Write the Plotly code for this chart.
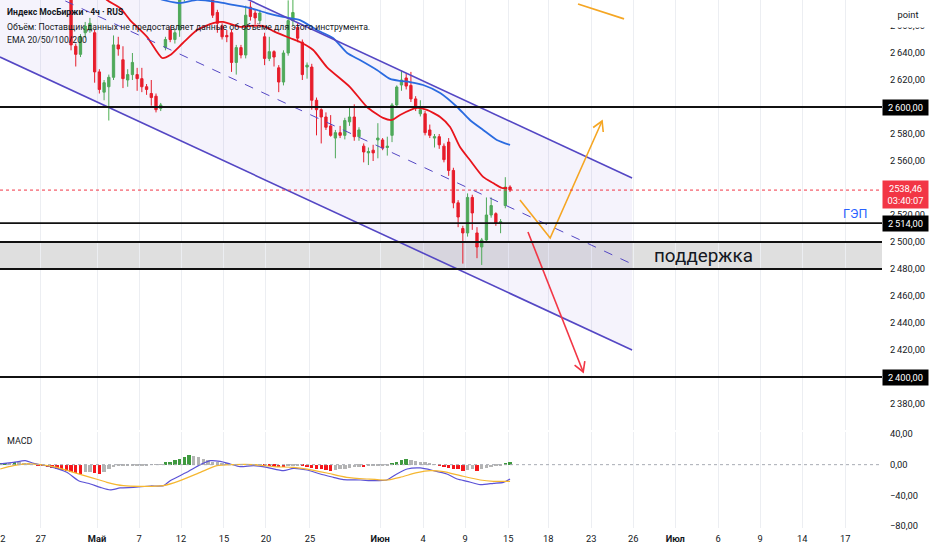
import math
import plotly.graph_objects as go

# ---- 4h candles (bar index counted from the left edge of the chart) ----
bar_idx = list(range(15, 109))
opens = [2700, 2645, 2639, 2655, 2657, 2655, 2626, 2611, 2615, 2622,
         2646, 2635, 2620, 2624, 2624, 2621, 2615, 2610, 2608, 2599,
         2644, 2657, 2650, 2657, 2682, 2690, 2686, 2695, 2690, 2694,
         2700, 2670, 2660, 2653, 2655, 2633, 2644, 2638.5, 2674, 2669.6,
         2664, 2652, 2636, 2641, 2629, 2618.5, 2640, 2664, 2659, 2648,
         2629.6, 2629.6, 2605, 2598, 2592.6, 2586, 2577, 2581, 2579, 2589,
         2592.6, 2578, 2571, 2566, 2568, 2575.6, 2575.6, 2570, 2579, 2601.5,
         2616.3, 2621.5, 2616, 2606, 2595, 2595, 2583, 2577, 2578, 2571,
         2574, 2553, 2529, 2510, 2506.7, 2533, 2506.7, 2496.3, 2501.5, 2520,
         2521, 2514, 2527, 2540.7]
highs = [2708, 2647, 2654, 2663, 2666, 2657, 2628, 2620, 2624, 2653,
         2652, 2645, 2628, 2640, 2629, 2629, 2617, 2620, 2610, 2603,
         2652, 2660, 2658, 2688, 2695, 2698, 2700, 2702, 2698, 2705,
         2705, 2672, 2662, 2657, 2657, 2646, 2646, 2675, 2678, 2672,
         2672, 2655, 2652, 2642, 2631, 2642, 2679, 2682, 2662, 2650,
         2633, 2632, 2607, 2599, 2596, 2594, 2583, 2586, 2592, 2600,
         2602, 2585, 2573, 2570, 2572, 2588, 2577, 2578, 2603, 2616,
         2627, 2625, 2626, 2608, 2605, 2597, 2587, 2580, 2580, 2573,
         2577, 2555, 2531, 2512, 2536, 2535, 2511, 2503, 2533, 2533,
         2522, 2517, 2548, 2542]
lows = [2642, 2630, 2637, 2651, 2655, 2618, 2610, 2605, 2590, 2620,
        2638, 2614, 2615, 2620, 2612, 2611, 2609, 2601, 2596, 2597,
        2642, 2648, 2647, 2652, 2678, 2683, 2683, 2686, 2684, 2688,
        2666, 2655, 2650, 2648, 2626, 2624, 2636, 2636, 2664, 2661,
        2662, 2631, 2634, 2630, 2611, 2616, 2638, 2660, 2648, 2620,
        2621, 2598, 2579, 2573, 2583, 2578, 2562, 2577, 2576, 2586,
        2575, 2575, 2559, 2557, 2560, 2562, 2568, 2564, 2574, 2600,
        2612, 2613, 2603.7, 2597, 2593, 2579, 2577, 2570, 2569, 2559,
        2549, 2525, 2511, 2484, 2504, 2509, 2488, 2483, 2500, 2518,
        2512, 2506.5, 2525, 2537]
closes = [2646, 2639, 2652, 2660, 2662, 2626, 2613, 2618, 2622, 2646,
          2643, 2621, 2624, 2633, 2621, 2615, 2613, 2607, 2598, 2601.5,
          2650, 2650, 2655, 2682, 2690, 2686, 2695, 2690, 2694, 2700,
          2668, 2662, 2652, 2652, 2633, 2644, 2638.5, 2668, 2667, 2666,
          2669.6, 2636, 2641, 2637, 2618.5, 2640, 2664, 2670, 2651, 2624,
          2631, 2605, 2598, 2592.6, 2585, 2579, 2581, 2579, 2590, 2592.6,
          2578, 2583, 2566.7, 2567, 2566, 2577, 2569.6, 2571, 2601.5, 2614.8,
          2620, 2615.5, 2606, 2599.3, 2598, 2581, 2579, 2578, 2572, 2561,
          2553, 2529, 2518.5, 2506.7, 2533, 2521.5, 2496.3, 2501.5, 2520, 2527,
          2514, 2515, 2540.7, 2538.46]

# EMA 20 (red) and EMA 50 (blue)
ema20_x = [20.1, 22.6, 25.4, 27.5, 31.1, 34.3, 36.0, 38.7, 41.7, 45.1, 47.2,
           50.8, 52.9, 55.7, 58.2, 61.4, 63.5, 66.3, 69.2, 74.1, 77.7, 81.1,
           83.0, 84.7, 88.3, 90.4, 93.2, 95.3, 97.4, 99.5, 102.3, 104.4, 106.3, 107.4]
ema20_y = [2688, 2679.3, 2673.3, 2664.4, 2651.9, 2636.3, 2638.5, 2647.4, 2657.0,
           2662.2, 2663.0, 2659.3, 2660.0, 2660.0, 2655.6, 2651.1, 2648.2, 2642.2,
           2629.6, 2614.8, 2600.0, 2591.9, 2590.4, 2594.1, 2599.3, 2597.8, 2592.6,
           2585.2, 2570.4, 2560.7, 2548.2, 2543.7, 2540.0, 2540.0]
ema50_x = [31.7, 34.5, 38.1, 41.7, 45.9, 49.3, 52.9, 56.5, 59.9, 63.5, 67.1,
           70.5, 73.5, 76.2, 79.8, 82.6, 84.7, 86.8, 89.6, 93.2, 96.8, 99.5,
           102.3, 105.2, 108.0]
ema50_y = [2683, 2679.3, 2677.0, 2679.3, 2677.8, 2675.6, 2673.3, 2669.6, 2666.7,
           2664.4, 2657.0, 2651.1, 2640.0, 2634.8, 2627.4, 2620.8, 2619.3, 2618.5,
           2616.3, 2610.4, 2600.0, 2590.4, 2583.0, 2575.6, 2571.9]

# MACD pane
hist = [1, 2, 2, 3, 3, 2, 1, 0, -1, -2,
        -3, -4, -5, -7, -8, -9, -11, -12, -10, -9,
        -11, -12, -9, -6, -3, -2, -1, -1, -1, -1,
        -0.5, -0.5, -0.3, -0.3, -0.2, 3, 4, 6, 8, 10,
        12, 11, 10, 8, 6, 4, 3, 2, 1, 0.4,
        0.2, 0.1, -0.3, -0.2, -0.2, -0.2, -1.5, -2, -2.5, -3,
        -3.5, -2, -1, -1, -2, -3, -4, -5, -6, -7,
        -8, -7, -6, -5, -4, -3, -2.5, -3, -2, -1.5,
        -1, -1, -0.5, 2, 4, 6, 7, 6, 5, 4,
        3, 1.5, 0.5, -1.5, -3, -4, -5, -6, -8, -7,
        -6, -8, -6, -4, -3, -2, -1, 1.5, 3]
macd_x = [0, 2.8, 5.3, 7.1, 10.6, 14.1, 16.6, 19.1, 21.2, 23.3, 25.4, 28.2, 31.8,
          34.6, 36.0, 39.5, 42.4, 44.5, 46.6, 48.7, 50.8, 53.7, 56.5, 60.0, 62.1,
          65.0, 67.8, 70.6, 72.7, 76.3, 79.1, 81.9, 84.0, 86.2, 89.0, 91.8, 94.6,
          96.8, 98.9, 101.7, 104.5, 106.6, 108.0]
macd_v = [0.9, 3, 5.2, 1.7, -2.6, -10, -20.9, -25.2, -29.6, -33, -30.4, -29.6, -27.8,
          -27.4, -20.9, -10, 0, 5.2, 4.3, 0.9, -2.6, -1.3, -3.5, -7.8, -4.8,
          -7, -12.2, -16.5, -19.6, -20, -20.9, -20, -12.2, -5.7, -4.3, -7.8, -12.2,
          -18.7, -21.7, -26.1, -24.3, -23, -18.7]
signal_x = [0, 2.8, 5.6, 8.5, 12.0, 15.5, 19.1, 22.6, 26.1, 29.7, 34.6, 38.1, 42.4,
            45.9, 49.4, 53.7, 57.9, 62.1, 65.0, 69.2, 73.4, 77.7, 81.9, 84.7, 88.3,
            91.1, 93.9, 97.5, 101.7, 104.5, 108.0]
signal_v = [-5.7, -1.3, 0.9, 0, -3.5, -10, -16.5, -23, -27.4, -28.3, -27.4, -20.9, -10,
            -1.3, 0, 0, -2.6, -3.5, -5.7, -10.9, -16.5, -18.7, -20, -16.5, -10.4,
            -7.8, -9.1, -14.3, -20, -21.7, -21.7]

# drawings
chan_x = [-0.05, 133.85]
chan_upper = [2765.0, 2547.4]
chan_lower = [2637.0, 2420.0]
levels = [2600, 2514, 2500, 2480, 2400]
level_labels = [2600, 2514, 2400]
support_zone = [2480, 2500]
last_price = 2538.46
timer_text = "03:40:07"
orange_arrow_x = [110.1, 116.5, 127.5]
orange_arrow_y = [2531.1, 2503.0, 2589.6]
red_arrow_x = [111.8, 123.5]
red_arrow_y = [2507.4, 2403.7]
orange_line_x = [122.4, 132.15]
orange_line_y = [2676.3, 2665.2]

# price scale ticks; 2600/2540/2400 sit under the coloured price labels
price_ticks = [2380, 2420, 2440, 2460, 2480, 2500, 2520, 2560, 2580, 2620, 2640, 2660]
macd_ticks = [40, 0, -40, -80]
date_pos = [0.0, 8.6, 20.5, 29.4, 38.3, 47.4, 56.3, 65.6, 80.5, 89.6,
            98.5, 107.6, 116.1, 125.2, 134.1, 143.0, 152.1, 161.0, 169.9, 179.0]
date_text = ["22", "27", "<b>Май</b>", "7", "12", "15", "20", "25", "<b>Июн</b>", "4",
             "9", "15", "18", "23", "26", "<b>Июл</b>", "6", "9", "14", "17"]

X_RANGE = [-0.05, 186.8]
Y_RANGE = [2360.74, 2679.26]
Y2_RANGE = [-82.6, 42.6]
PLOT_W, MAIN_H = 882, 430

GREEN = "#4caf50"
RED = "#f0181e"
TXT = "#131722"
FONT = "Roboto"
AXF = 9.3


def fmt(v):
    s = f"{v:,.2f}"
    return s.replace(",", "\u2009").replace(".", ",")


def to_px(x, y):
    px = (x - X_RANGE[0]) / (X_RANGE[1] - X_RANGE[0]) * PLOT_W
    py = (Y_RANGE[1] - y) / (Y_RANGE[1] - Y_RANGE[0]) * MAIN_H
    return px, py


def from_px(px, py):
    x = X_RANGE[0] + px / PLOT_W * (X_RANGE[1] - X_RANGE[0])
    y = Y_RANGE[1] - py / MAIN_H * (Y_RANGE[1] - Y_RANGE[0])
    return x, y


def arrow_head(xs, ys, size=11, ang=30):
    ex, ey = to_px(xs[-1], ys[-1])
    sx, sy = to_px(xs[-2], ys[-2])
    d = math.hypot(ex - sx, ey - sy)
    ux, uy = (ex - sx) / d, (ey - sy) / d
    pts = []
    for a in (ang, -ang):
        r = math.radians(a)
        rx = ux * math.cos(r) - uy * math.sin(r)
        ry = ux * math.sin(r) + uy * math.cos(r)
        pts.append(from_px(ex - size * rx, ey - size * ry))
    return ([pts[0][0], xs[-1], pts[1][0]], [pts[0][1], ys[-1], pts[1][1]])


fig = go.Figure()

# channel fill
fig.add_trace(go.Scatter(
    x=[chan_x[0], chan_x[1], chan_x[1], chan_x[0], chan_x[0]],
    y=[chan_lower[0], chan_lower[1], chan_upper[1], chan_upper[0], chan_lower[0]],
    fill="toself", fillcolor="rgba(120,100,215,0.075)", line=dict(width=0),
    mode="lines", hoverinfo="skip"))

fig.add_trace(go.Candlestick(
    x=bar_idx, open=opens, high=highs, low=lows, close=closes,
    increasing=dict(line=dict(color=GREEN, width=1), fillcolor=GREEN),
    decreasing=dict(line=dict(color=RED, width=1), fillcolor=RED),
    whiskerwidth=0, hoverinfo="skip"))

fig.add_trace(go.Scatter(x=ema20_x, y=ema20_y, mode="lines",
                         line=dict(color="#e8141c", width=1.8, shape="spline", smoothing=0.6),
                         hoverinfo="skip"))
fig.add_trace(go.Scatter(x=ema50_x, y=ema50_y, mode="lines",
                         line=dict(color="#2a6be0", width=1.8, shape="spline", smoothing=0.6),
                         hoverinfo="skip"))

# channel lines
mid = [(u + l) / 2 for u, l in zip(chan_upper, chan_lower)]
for yy, dash, w in ((chan_upper, "solid", 1.6), (chan_lower, "solid", 1.6), (mid, "dash", 1)):
    fig.add_trace(go.Scatter(x=chan_x, y=yy, mode="lines",
                             line=dict(color="#5447c4", width=w, dash=dash), hoverinfo="skip"))

# drawn arrows
fig.add_trace(go.Scatter(x=orange_arrow_x, y=orange_arrow_y, mode="lines",
                         line=dict(color="#f5a623", width=1.6), hoverinfo="skip"))
hx, hy = arrow_head(orange_arrow_x, orange_arrow_y)
fig.add_trace(go.Scatter(x=hx, y=hy, mode="lines", line=dict(color="#f5a623", width=1.6),
                         hoverinfo="skip"))
fig.add_trace(go.Scatter(x=red_arrow_x, y=red_arrow_y, mode="lines",
                         line=dict(color="#f23645", width=1.6), hoverinfo="skip"))
hx, hy = arrow_head(red_arrow_x, red_arrow_y)
fig.add_trace(go.Scatter(x=hx, y=hy, mode="lines", line=dict(color="#f23645", width=1.6),
                         hoverinfo="skip"))
fig.add_trace(go.Scatter(x=orange_line_x, y=orange_line_y, mode="lines",
                         line=dict(color="#f5a623", width=1.8), hoverinfo="skip"))

# MACD pane
hist_colors = []
for k, v in enumerate(hist):
    prev = hist[k - 1] if k else 0
    if v >= 0:
        hist_colors.append("#3f9a3f" if v > prev else "#b4b4b4")
    else:
        hist_colors.append("#f5161b" if v < prev else "#b4b4b4")
fig.add_trace(go.Bar(x=list(range(len(hist))), y=hist, marker=dict(color=hist_colors, line=dict(width=0)),
                     width=0.72, xaxis="x", yaxis="y2", hoverinfo="skip"))
fig.add_trace(go.Scatter(x=macd_x, y=macd_v, mode="lines", xaxis="x", yaxis="y2",
                         line=dict(color="#5b52d6", width=1.2, shape="spline", smoothing=0.6),
                         hoverinfo="skip"))
fig.add_trace(go.Scatter(x=signal_x, y=signal_v, mode="lines", xaxis="x", yaxis="y2",
                         line=dict(color="#f5b731", width=1.2, shape="spline", smoothing=0.6),
                         hoverinfo="skip"))

shapes = [
    dict(type="rect", xref="paper", x0=0, x1=1, yref="y", y0=support_zone[0], y1=support_zone[1],
         fillcolor="rgba(150,150,150,0.3)", line=dict(width=0), layer="below"),
    dict(type="line", xref="paper", x0=0, x1=1, yref="y", y0=last_price, y1=last_price,
         line=dict(color="#f23645", width=1, dash="dot")),
    dict(type="line", xref="paper", x0=0, x1=1, yref="y2", y0=0, y1=0,
         line=dict(color="#a8abb3", width=1, dash="dot")),
]
for lv in levels:
    shapes.append(dict(type="line", xref="paper", x0=0, x1=1, yref="y", y0=lv, y1=lv,
                       line=dict(color="#111111", width=1.8)))

ann = []
legend_rows = [("<b>Индекс МосБиржи · 4ч · RUS</b>", 12, 8.6),
               ("Объём: Поставщик данных не предоставляет данные об объёме для этого инструмента.", 27, 8.7),
               ("EMA 20/50/100/200", 40, 8.7)]
for t, yy, fs in legend_rows:
    ann.append(dict(text=t, xref="paper", yref="paper", x=0, y=1, xshift=5, yshift=-yy,
                    xanchor="left", yanchor="middle", showarrow=False,
                    font=dict(family=FONT, size=fs, color=TXT)))
ann.append(dict(text="MACD", xref="paper", yref="y2 domain", x=0, y=1, xshift=5, yshift=-9,
                xanchor="left", yanchor="middle", showarrow=False,
                font=dict(family=FONT, size=9, color=TXT)))
for lv in level_labels:
    ann.append(dict(text=fmt(lv), xref="paper", yref="y", x=1, y=lv, xanchor="left",
                    yanchor="middle", showarrow=False, bgcolor="#000000", borderpad=2,
                    width=41, font=dict(family=FONT, size=AXF, color="#ffffff")))
ann.append(dict(text=f"{fmt(last_price).replace(chr(0x2009), '')}<br>{timer_text}", xref="paper", yref="y",
                x=1, y=last_price, yshift=-4, xanchor="left", yanchor="middle", showarrow=False,
                bgcolor="#f23645", borderpad=2, width=41,
                font=dict(family=FONT, size=AXF, color="#ffffff")))
ann.append(dict(text="point", xref="paper", yref="paper", x=1, y=1, xanchor="left", yanchor="top",
                showarrow=False, bgcolor="#ffffff", width=48, height=24, valign="middle",
                font=dict(family=FONT, size=AXF, color=TXT)))
ann.append(dict(text="ГЭП", xref="x", yref="y", x=181, y=2521, showarrow=False,
                font=dict(family=FONT, size=12.5, color="#2962ff")))
ann.append(dict(text="поддержка", xref="x", yref="y", x=148.9, y=2489.6, showarrow=False,
                font=dict(family=FONT, size=18.8, color=TXT)))

fig.update_layout(
    width=932, height=550,
    margin=dict(l=0, r=50, t=0, b=22),
    paper_bgcolor="#ffffff", plot_bgcolor="#ffffff",
    showlegend=False, bargap=0,
    shapes=shapes, annotations=ann,
    xaxis=dict(range=X_RANGE, anchor="y2", tickvals=date_pos, ticktext=date_text,
               showgrid=True, gridcolor="#eceef2", gridwidth=1, zeroline=False,
               showline=False, ticks="", ticklabelstandoff=4, ticklabeloverflow="allow",
               automargin=False, rangeslider=dict(visible=False),
               tickfont=dict(family=FONT, size=AXF, color=TXT)),
    yaxis=dict(domain=[(528 - 430) / 528, 1], range=Y_RANGE, side="right", automargin=False,
               tickvals=price_ticks, ticktext=[fmt(v) for v in price_ticks],
               showgrid=False, zeroline=False, ticks="", ticklabelstandoff=7,
               tickfont=dict(family=FONT, size=AXF, color=TXT)),
    yaxis2=dict(domain=[0, (528 - 432) / 528], range=Y2_RANGE, side="right", anchor="x",
                automargin=False,
                tickvals=macd_ticks, ticktext=[fmt(v).replace("-", "−") for v in macd_ticks],
                showgrid=False, zeroline=False, ticks="", ticklabelstandoff=7,
                tickfont=dict(family=FONT, size=AXF, color=TXT)),
)

fig.write_html("out.html", config={"displayModeBar": False},
               post_script="document.body.style.margin='0';document.body.style.overflow='hidden';")
